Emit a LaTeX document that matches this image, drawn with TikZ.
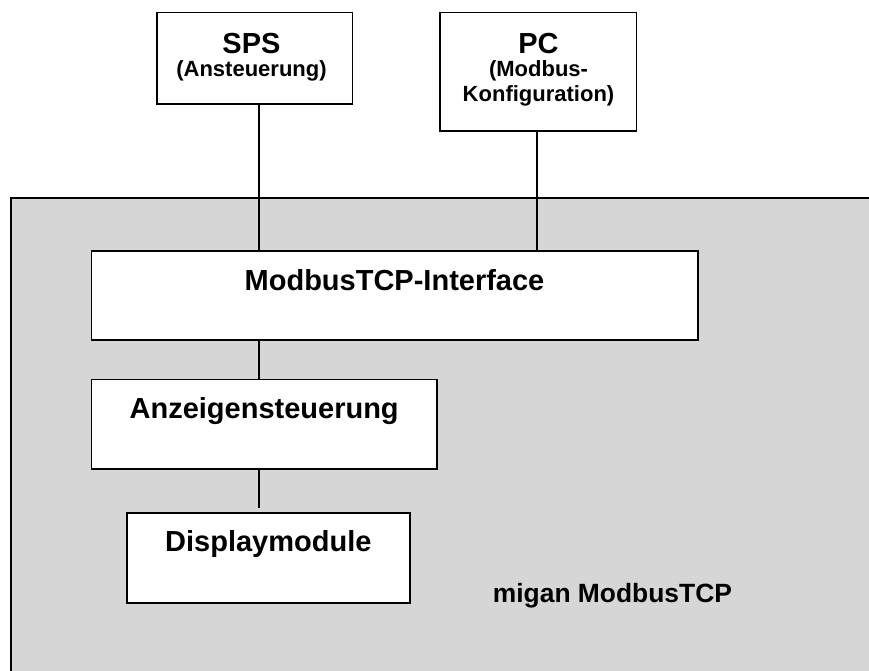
\documentclass[tikz,border=0pt]{standalone}
\usepackage{fontspec}
\setmainfont{Liberation Sans}
\definecolor{panelgray}{RGB}{214,214,214}
\begin{document}
\begin{tikzpicture}[x=1pt,y=-1pt,
  box/.style={draw=black, line width=1.6pt, fill=white, inner sep=0pt},
  conn/.style={draw=black, line width=1.3pt},
  bigtxt/.style={font=\fontsize{29}{34}\selectfont\bfseries, inner sep=0pt, anchor=base},
  smalltxt/.style={font=\fontsize{22}{25}\selectfont\bfseries, inner sep=0pt, anchor=base},
  labeltxt/.style={font=\fontsize{26.4}{30}\selectfont\bfseries, inner sep=0pt, anchor=base west}]
\useasboundingbox (0,0) rectangle (869,670);
\clip (0,0) rectangle (869,670);
% panel
\fill[panelgray] (11,197.7) rectangle (880,680);
\draw[line width=2pt] (880,197.7) -- (11,197.7) -- (11,680);
% boxes
\node[box, minimum width=195.5pt, minimum height=91.7pt] (sps) at (254.75,58.15) {};
\node[box, minimum width=196.5pt, minimum height=118.7pt] (pc) at (538.25,71.65) {};
\node[box, minimum width=606.4pt, minimum height=89.3pt] (iface) at (394.5,295.35) {};
\node[box, minimum width=345.7pt, minimum height=89.5pt] (anz) at (264.15,424.25) {};
\node[box, minimum width=283.3pt, minimum height=90.3pt] (disp) at (268.35,557.85) {};
% connectors
\draw[conn] ([xshift=4.25pt]sps.south) -- ([xshift=4.25pt]sps.south |- iface.north);
\draw[conn] ([xshift=-1.25pt]pc.south) -- ([xshift=-1.25pt]pc.south |- iface.north);
\draw[conn] ([xshift=-5.15pt]anz.north |- iface.south) -- ([xshift=-5.15pt]anz.north);
\draw[conn, shorten >=4.3pt] ([xshift=-5.15pt]anz.south) -- ([xshift=-5.15pt]anz.south |- disp.north);
% texts
\node[bigtxt] (spsT) at (251.5,53) {SPS};
\node[smalltxt] (spsS) at (251.5,76) {(Ansteuerung)};
\node[bigtxt] (pcT) at (538.5,53) {PC};
\node[smalltxt] (pcS1) at (538.5,76) {(Modbus-};
\node[smalltxt] (pcS2) at (538.5,101) {Konfiguration)};
\node[bigtxt] (ifT) at (394.5,290) {ModbusTCP-Interface};
\node[bigtxt] (anzT) at (264.15,418) {Anzeigensteuerung};
\node[bigtxt] (dispT) at (268.35,551.7) {Displaymodule};
\node[labeltxt] (migan) at (492.7,602) {migan ModbusTCP};
\end{tikzpicture}
\end{document}
